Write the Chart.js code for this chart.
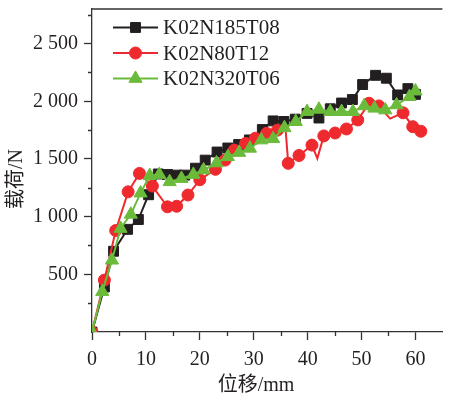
<!DOCTYPE html>
<html>
<head>
<meta charset="utf-8">
<script src="https://cdn.jsdelivr.net/npm/chart.js@4.4.1/dist/chart.umd.min.js"></script>
<style>
body{margin:0;background:#fff;}
#wrap{width:451px;height:400px;position:relative;}
</style>
</head>
<body>
<div id="wrap"><canvas id="loadChart" width="451" height="400"></canvas></div>
<script>
// displacement (mm) / load (N) for each specimen
const names = ['K02N185T08', 'K02N80T12', 'K02N320T06']

const dispA = [0,2.3,4.0,6.6,8.6,10.5,12.3,14.0,15.7,17.2,19.2,21.0,23.2,25.2,27.2,29.2,31.6,33.6,35.6,37.7,39.9,42.1,44.2,46.3,48.3,50.2,52.6,54.6,56.7,58.6,60.0]
const loadA = [0,390,700,890,975,1190,1370,1365,1360,1360,1420,1490,1560,1595,1625,1665,1755,1830,1825,1845,1895,1855,1935,1985,2015,2145,2225,2200,2055,2110,2060]

const dispB = [0,2.3,4.4,6.7,8.8,11.2,14.0,15.7,17.8,20.0,22.9,24.7,26.4,28.5,30.3,32.4,34.4,35.9,36.4,38.4,40.8,41.8,43.0,45.1,47.2,49.3,51.4,53.2,55.3,57.7,59.5,61.0]
const loadB = [0,450,880,1215,1375,1265,1085,1090,1187,1320,1410,1490,1577,1635,1680,1722,1750,1760,1462,1530,1620,1505,1700,1725,1760,1838,1983,1960,1850,1900,1780,1740]
// spikes in the record that carry no marker
const bareB = [17,21,28]

const dispC = [0,1.9,3.7,5.3,7.2,9.0,10.7,12.5,14.4,16.6,18.8,20.7,23.1,25.2,27.3,29.3,31.4,33.6,35.7,37.8,39.9,42.1,44.2,46.3,48.4,50.5,52.4,54.4,56.5,58.9,60.0]
const loadC = [0,350,622,897,1020,1204,1355,1365,1302,1330,1365,1404,1465,1519,1556,1592,1664,1675,1770,1823,1910,1930,1910,1910,1910,1960,1939,1924,1968,2040,2088]

const xTicks = [0,10,20,30,40,50,60]
const yTicks = [500,1000,1500,2000,2500]

const colors = ['#231f20', '#ee2a2e', '#6bbb3b']
const styles = ['rect', 'circle', 'triangle']
const radii = [7, 6, 7.6]

const serif = "'Liberation Serif', 'Noto Sans CJK SC', serif"

function pts(xs, ys){
return xs.map((x, i) => ({x: x, y: ys[i]}))
}

function spaced(v){
return String(v).replace(/\B(?=(\d{3})+(?!\d))/g, ' ')
}

function series(i, data, radius){
return {
label: names[i],
data: data,
borderColor: colors[i],
backgroundColor: colors[i],
pointBackgroundColor: colors[i],
pointBorderColor: colors[i],
pointStyle: styles[i],
pointRadius: radius,
pointBorderWidth: 1,
borderWidth: 2,
tension: 0,
order: 3 - i
}
}

const radB = dispB.map((x, i) => bareB.includes(i) ? 0 : radii[1])

// minor ticks, frame top edge, axis titles and legend
const extras = {
id: 'extras',
afterDraw(chart){
const c = chart.ctx
const a = chart.chartArea
const sx = chart.scales.x
const sy = chart.scales.y
c.save()
c.strokeStyle = '#333'
c.lineWidth = 1.3
c.beginPath()
for(let v = 5; v < 65; v += 10){
const px = Math.round(sx.getPixelForValue(v)) + 0.5
c.moveTo(px, a.bottom)
c.lineTo(px, a.bottom + 4)
}
for(let v = 250; v < 2800; v += 500){
const py = Math.round(sy.getPixelForValue(v)) + 0.5
c.moveTo(a.left, py)
c.lineTo(a.left - 4, py)
}
c.moveTo(a.left, a.top)
c.lineTo(a.right, a.top)
c.stroke()

c.fillStyle = '#231f20'
c.font = '20px ' + serif
c.textAlign = 'center'
c.textBaseline = 'middle'
c.fillText('位移/mm', 256, 386)
c.save()
c.translate(17, 179)
c.rotate(-Math.PI / 2)
c.fillText('载荷/N', 0, 0)
c.restore()

c.font = '21px ' + serif
c.textAlign = 'left'
for(let i = 0; i < names.length; i++){
const y = 27.5 + i * 25.5
c.strokeStyle = colors[i]
c.lineWidth = 2
c.beginPath()
c.moveTo(113, y)
c.lineTo(158, y)
c.stroke()
c.fillStyle = colors[i]
c.strokeStyle = colors[i]
c.lineWidth = 1
Chart.helpers.drawPoint(c, {pointStyle: styles[i], radius: radii[i], rotation: 0, borderWidth: 1}, 135.5, y)
c.fillStyle = '#231f20'
c.fillText(names[i], 163, y + 1)
}
c.restore()
}
}

const ctx = document.getElementById('loadChart')

new Chart(ctx, {
type: 'line',
data: {
datasets: [
series(0, pts(dispA, loadA), radii[0]),
series(1, pts(dispB, loadB), radB),
series(2, pts(dispC, loadC), radii[2])
]
},
options: {
responsive: false,
animation: false,
layout: {padding: {top: 9, left: 0, right: 0, bottom: 0}},
plugins: {
legend: {display: false},
tooltip: {enabled: false}
},
scales: {
x: {
type: 'linear',
min: 0,
max: 65,
afterFit(s){
s.height = 68
s.paddingLeft = 0
s.paddingRight = 0
},
afterBuildTicks(s){
s.ticks = xTicks.map(v => ({value: v}))
},
border: {color: '#333', width: 1.3},
grid: {
drawOnChartArea: false,
tickLength: 8,
tickColor: '#333',
tickWidth: 1.3
},
ticks: {
color: '#231f20',
padding: 8,
maxRotation: 0,
autoSkip: false,
font: {family: serif, size: 20}
}
},
y: {
type: 'linear',
min: 0,
max: 2800,
afterFit(s){
s.width = 92
s.paddingTop = 0
s.paddingBottom = 0
},
afterBuildTicks(s){
s.ticks = yTicks.map(v => ({value: v}))
},
border: {color: '#333', width: 1.3},
grid: {
drawOnChartArea: false,
tickLength: 8,
tickColor: '#333',
tickWidth: 1.3
},
ticks: {
color: '#231f20',
padding: 6,
font: {family: serif, size: 20},
callback: v => spaced(v)
}
}
}
},
plugins: [extras]
})
</script>
</body>
</html>
